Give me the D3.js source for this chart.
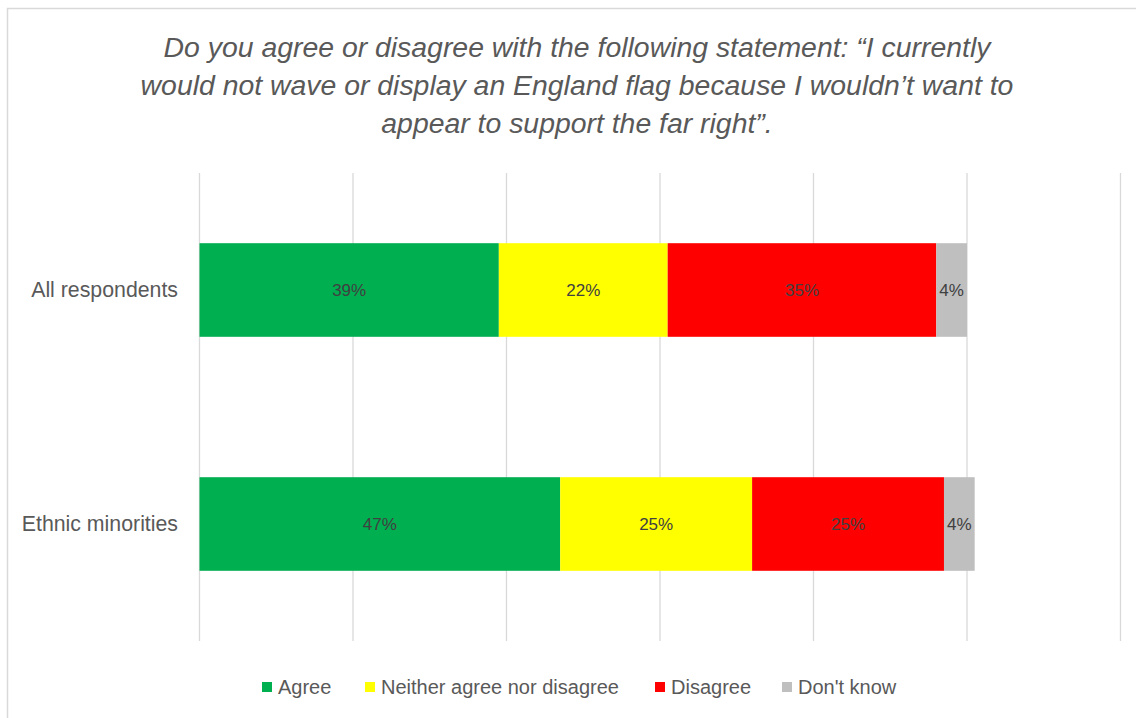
<!DOCTYPE html>
<html>
<head>
<meta charset="utf-8">
<script src="https://cdn.jsdelivr.net/npm/d3@7"></script>
<style>
  html, body { margin: 0; padding: 0; background: #fff; }
  svg { display: block; }
</style>
</head>
<body>
<svg id="chart" width="1136" height="718"></svg>
<script>
// Survey responses, percent of each group
const groups = ["All respondents", "Ethnic minorities"];
const seriesNames = ["Agree", "Neither agree nor disagree", "Disagree", "Don't know"];
const agree = [39, 47];
const neither = [22, 25];
const disagree = [35, 25];
const dontKnow = [4, 4];
const gridTicks = [0, 20, 40, 60, 80, 100, 120];
const seriesColors = ["#00AF50", "#FFFF00", "#FF0000", "#BFBFBF"];
const titleLines = [
  "Do you agree or disagree with the following statement: \u201CI currently",
  "would not wave or display an England flag because I wouldn\u2019t want to",
  "appear to support the far right\u201D."
];

const narrow = "'Liberation Sans Narrow', 'Arial Narrow', 'Liberation Sans', sans-serif";
const svg = d3.select("#chart");

// Frame around the chart area
svg.append("path")
  .attr("d", "M7.5,718 V8.5 H1136")
  .attr("fill", "none")
  .attr("stroke", "#D9D9D9")
  .attr("stroke-width", 1.5);

// Title
svg.append("text")
  .attr("x", 577)
  .attr("y", 57)
  .attr("text-anchor", "middle")
  .attr("font-family", narrow)
  .attr("font-style", "italic")
  .attr("font-size", 28.4)
  .attr("fill", "#595959")
  .selectAll("tspan")
  .data(titleLines)
  .join("tspan")
  .attr("x", 577)
  .attr("dy", (d, i) => i === 0 ? 0 : 38)
  .text(d => d);

const x = d3.scaleLinear().domain([0, 120]).range([199.5, 1120.5]);
const y = d3.scaleBand().domain(groups).range([173, 641]).paddingInner(0.6).paddingOuter(0.3);

// Vertical gridlines
svg.append("g")
  .selectAll("line")
  .data(gridTicks)
  .join("line")
  .attr("x1", d => x(d)).attr("x2", d => x(d))
  .attr("y1", 173).attr("y2", 641)
  .attr("stroke", "#D9D9D9")
  .attr("stroke-width", 1.3);

// Stacked data
const rows = groups.map((g, i) => ({
  group: g,
  "Agree": agree[i],
  "Neither agree nor disagree": neither[i],
  "Disagree": disagree[i],
  "Don't know": dontKnow[i]
}));
const stacked = d3.stack().keys(seriesNames)(rows);

const layers = svg.append("g")
  .selectAll("g")
  .data(stacked)
  .join("g")
  .attr("fill", (d, i) => seriesColors[i]);

layers.selectAll("rect")
  .data(d => d)
  .join("rect")
  .attr("x", d => x(d[0]))
  .attr("y", d => y(d.data.group))
  .attr("width", d => x(d[1]) - x(d[0]))
  .attr("height", y.bandwidth());

// Value labels
layers.selectAll("text")
  .data(d => d.map(v => ({ v, key: d.key })))
  .join("text")
  .attr("x", d => (x(d.v[0]) + x(d.v[1])) / 2)
  .attr("y", d => y(d.v.data.group) + y.bandwidth() / 2)
  .attr("dy", "0.36em")
  .attr("text-anchor", "middle")
  .attr("font-family", "'Liberation Sans', Arial, sans-serif")
  .attr("font-size", 17)
  .attr("fill", "#404040")
  .text(d => (d.v[1] - d.v[0]) + "%");

// Category axis
const yAxis = svg.append("g")
  .attr("transform", "translate(186,0)")
  .call(d3.axisLeft(y).tickSize(0).tickPadding(8));
yAxis.select(".domain").remove();
yAxis.selectAll("text")
  .attr("font-family", narrow)
  .attr("font-size", 21.3)
  .attr("fill", "#595959");

// Legend
const legendItems = [
  { name: seriesNames[0], color: seriesColors[0], x: 262 },
  { name: seriesNames[1], color: seriesColors[1], x: 365 },
  { name: seriesNames[2], color: seriesColors[2], x: 655 },
  { name: seriesNames[3], color: seriesColors[3], x: 782 }
];
const legend = svg.append("g")
  .selectAll("g")
  .data(legendItems)
  .join("g")
  .attr("transform", d => `translate(${d.x},687)`);
legend.append("rect")
  .attr("x", 0).attr("y", -5)
  .attr("width", 10).attr("height", 10)
  .attr("fill", d => d.color);
legend.append("text")
  .attr("x", 16)
  .attr("dy", "0.35em")
  .attr("font-family", narrow)
  .attr("font-size", 20)
  .attr("fill", "#595959")
  .text(d => d.name);
</script>
</body>
</html>
